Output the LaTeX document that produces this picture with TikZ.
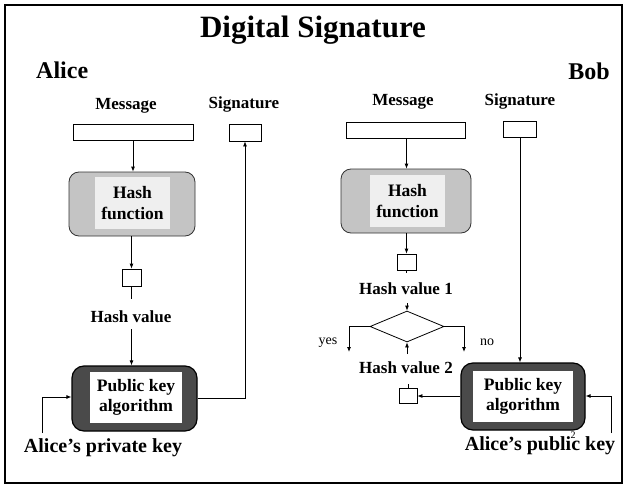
\documentclass[tikz,border=0pt]{standalone}
\usepackage{fontspec}
\setmainfont{Liberation Serif}
\usetikzlibrary{arrows.meta,shapes.geometric}

\definecolor{hashouter}{HTML}{C4C4C4}
\definecolor{hashinner}{HTML}{EFEFEF}
\definecolor{pkouter}{HTML}{4A4A4A}

\tikzset{
  lbl/.style={font=\fontsize{17}{20}\selectfont\bfseries, inner sep=0pt, align=center},
  slot/.style={draw=black, line width=0.8pt, fill=white, inner sep=0pt},
  hashbox/.style={draw=black!80, line width=0.8pt, fill=hashouter, rounded corners=10pt,
                  minimum width=126pt, minimum height=64pt, inner sep=0pt},
  hashin/.style={fill=hashinner, minimum width=75pt, minimum height=52pt, inner sep=0pt,
                 font=\fontsize{17.5}{21}\selectfont\bfseries, align=center},
  pkbox/.style={draw=black, line width=1.2pt, fill=pkouter, rounded corners=12pt,
                minimum height=65pt, inner sep=0pt},
  pkin/.style={fill=white, minimum height=51pt, inner sep=0pt,
               font=\fontsize{17.5}{20}\selectfont\bfseries, align=center},
  conn/.style={line width=0.8pt},
  arr/.style={line width=0.8pt, -{Latex[length=5pt,width=4pt]}},
  keytxt/.style={font=\fontsize{20}{24}\selectfont\bfseries, inner sep=0pt},
  small/.style={font=\fontsize{14}{16}\selectfont, inner sep=0pt}
}

\begin{document}
\begin{tikzpicture}[x=1pt,y=-1pt]
\useasboundingbox (0,0) rectangle (627,487);
\fill[white] (0,0) rectangle (627,487);
\draw[line width=2.5pt] (5,5) rectangle (622,483);

% headings
\node[font=\fontsize{31}{36}\selectfont\bfseries, inner sep=0pt] (title) at (313,30) {Digital Signature};
\node[font=\fontsize{24}{28}\selectfont\bfseries, inner sep=0pt, anchor=base west] (alice) at (36,79) {Alice};
\node[font=\fontsize{24}{28}\selectfont\bfseries, inner sep=0pt, anchor=base east] (bob) at (610,80) {Bob};

% ---- Alice: signing ----
\node[lbl, anchor=base] (msgAt) at (126,110) {Message};
\node[lbl, anchor=base] (sigAt) at (244,108) {Signature};
\node[slot, minimum width=120pt, minimum height=16pt] (msgA) at (133,132) {};
\node[slot, minimum width=32pt, minimum height=17pt] (sigA) at (245,132.5) {};

\node[hashbox] (hashA) at (132,204) {};
\node[hashin] (hashAin) at (132.5,203) {Hash\\function};

\node[slot, minimum width=19pt, minimum height=17pt] (hvA) at (131.5,277.5) {};
\node[lbl, anchor=base] (hvAt) at (131,322) {Hash value};

\node[pkbox, minimum width=125pt] (pkA) at (134.5,398.5) {};
\node[pkin, minimum width=92pt] (pkAin) at (136,397.5) {Public key\\algorithm};

\node[keytxt] (privt) at (103,448) {Alice’s private key};
\coordinate (privfoot) at (42,433);

\draw[arr] (msgA.south -| 133,0) -- (133,0 |- hashA.north);
\draw[arr] (hashA.south -| 131.5,0) -- (131.5,0 |- hvA.north);
\draw[conn] (hvA.south) -- (131.5,299);
\draw[arr] (131.5,329) -- (131.5,0 |- pkA.north);
\draw[arr] (privfoot) |- (pkA.west |- 0,397);
\draw[arr] (pkA.east |- 0,398) -| (sigA.south);

% ---- Bob: verifying ----
\node[lbl, anchor=base] (msgBt) at (403,106) {Message};
\node[lbl, anchor=base] (sigBt) at (520,106) {Signature};
\node[slot, minimum width=119pt, minimum height=16pt] (msgB) at (405.5,130) {};
\node[slot, minimum width=33pt, minimum height=16pt] (sigB) at (519.5,129) {};

\node[hashbox, minimum width=130pt] (hashB) at (406,201) {};
\node[hashin] (hashBin) at (407.5,201) {Hash\\function};

\node[slot, minimum width=19pt, minimum height=16pt] (hv1) at (406.5,262) {};
\node[lbl, anchor=base] (hv1t) at (406,294) {Hash value 1};

\node[diamond, draw=black, line width=0.8pt, minimum width=74pt, minimum height=31pt, inner sep=0pt] (cmp) at (407,326.5) {};
\coordinate (yesend) at (349,352);
\coordinate (noend) at (464,352);
\node[small] (yes) at (328,343) {yes};
\node[small] (no) at (487,342) {no};

\node[lbl, anchor=base] (hv2t) at (406,373) {Hash value 2};
\node[slot, minimum width=18pt, minimum height=15pt] (hv2) at (408,395.5) {};

\node[pkbox, minimum width=124pt, minimum height=67pt] (pkB) at (523,396.5) {};
\node[pkin, minimum width=100pt] (pkBin) at (523,396.5) {Public key\\algorithm};

\node[keytxt] (pubt) at (540,446) {Alice’s public key};
\node[font=\fontsize{10}{12}\selectfont, inner sep=0pt] (pageno) at (573,435) {2};
\coordinate (pubfoot) at (611,433);

\draw[arr] (msgB.south -| 406.5,0) -- (406.5,0 |- hashB.north);
\draw[arr] (hashB.south -| 406.5,0) -- (406.5,0 |- hv1.north);
\draw[conn] (hv1.south) -- (406.5,273);
\draw[arr] (407,303) -- (cmp.north);
\draw[arr] (cmp.west) -| (yesend);
\draw[arr] (cmp.east) -| (noend);
\draw[arr] (407,354) -- (cmp.south);
\draw[conn] (408,384) -- (hv2.north);
\draw[arr] (pkB.west |- 0,396) -- (hv2.east |- 0,396);
\draw[arr] (sigB.south -| 520,0) -- (520,0 |- pkB.north);
\draw[arr] (pubfoot) |- (pkB.east |- 0,396);
\end{tikzpicture}
\end{document}
